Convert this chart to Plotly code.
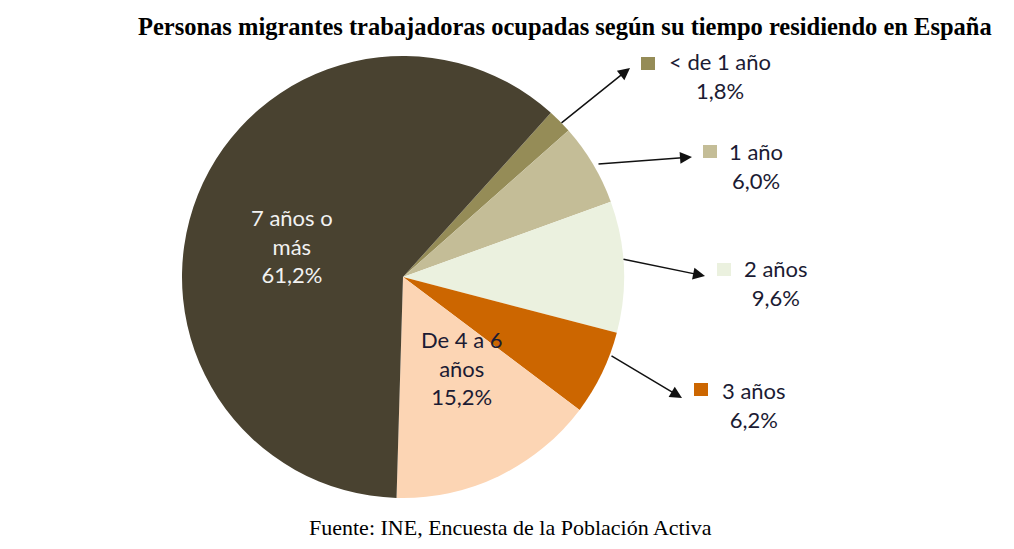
import plotly.graph_objects as go

categories = ["< de 1 año", "1 año", "2 años", "3 años", "De 4 a 6 años", "7 años o más"]
values = [1.8, 6.0, 9.6, 6.2, 15.2, 61.2]
colors = ["#958c57", "#c4bd97", "#ebf1df", "#cc6600", "#fcd5b4", "#494230"]

W, H = 1014, 549
OFF = 8  # page body margin

def pct(v):
    return f"{v:.1f}".replace(".", ",") + "%"

def px(x):
    return (x - OFF) / W

def py(y):
    return 1 - (y - OFF) / H

cx, cy, r = 403, 277, 221

fig = go.Figure()
fig.add_trace(go.Pie(
    labels=categories,
    values=values,
    sort=False,
    direction="clockwise",
    rotation=42,
    marker=dict(colors=colors, line=dict(width=0)),
    textinfo="none",
    hoverinfo="label+percent",
    showlegend=False,
    domain=dict(x=[px(cx - r), px(cx + r)], y=[py(cy + r), py(cy - r)]),
))

label_font = dict(family="Lato, Open Sans, sans-serif", size=22, color="#1b1b33")

def ann(x, y, text, font, align="center"):
    fig.add_annotation(x=px(x), y=py(y), xref="paper", yref="paper", text=text,
                       showarrow=False, font=font, align=align,
                       xanchor="center", yanchor="middle")

# inside labels
ann(292, 246, "7 años o<br>más<br>" + pct(values[5]), dict(label_font, color="#f2f2f2"))
ann(462, 368, "De 4 a 6<br>años<br>" + pct(values[4]), label_font)

# outside labels: (index, text center x, text center y, square x0, square y0, arrow head, arrow tail)
outside = [
    (0, 720, 76, 641, 57, (630, 68), (560, 124)),
    (1, 756, 166, 703, 145, (692, 157), (597, 164)),
    (2, 776, 283, 717, 263, (705, 276), (622, 259)),
    (3, 754, 405, 694, 383, (682, 398), (610, 355)),
]
for i, tx, ty, sx, sy, head, tail in outside:
    ann(tx, ty, categories[i] + "<br>" + pct(values[i]), label_font)
    fig.add_shape(type="rect", xref="paper", yref="paper",
                  x0=px(sx), x1=px(sx + 14), y0=py(sy + 13), y1=py(sy),
                  fillcolor=colors[i], line=dict(width=0))
    fig.add_annotation(x=px(head[0]), y=py(head[1]), xref="paper", yref="paper",
                       text="", showarrow=True, arrowhead=2, arrowsize=1.6,
                       arrowwidth=1.5, arrowcolor="#111111",
                       ax=tail[0] - head[0], ay=tail[1] - head[1])

serif = "Liberation Serif, Times New Roman, serif"
ann(565, 26, "<b>Personas migrantes trabajadoras ocupadas según su tiempo residiendo en España</b>",
    dict(family=serif, size=24.5, color="#000000"))
ann(510, 527, "Fuente: INE, Encuesta de la Población Activa",
    dict(family=serif, size=22, color="#000000"))

fig.update_layout(width=W, height=H, margin=dict(l=0, r=0, t=0, b=0),
                  paper_bgcolor="white", plot_bgcolor="white")
fig.write_html("out.html")
